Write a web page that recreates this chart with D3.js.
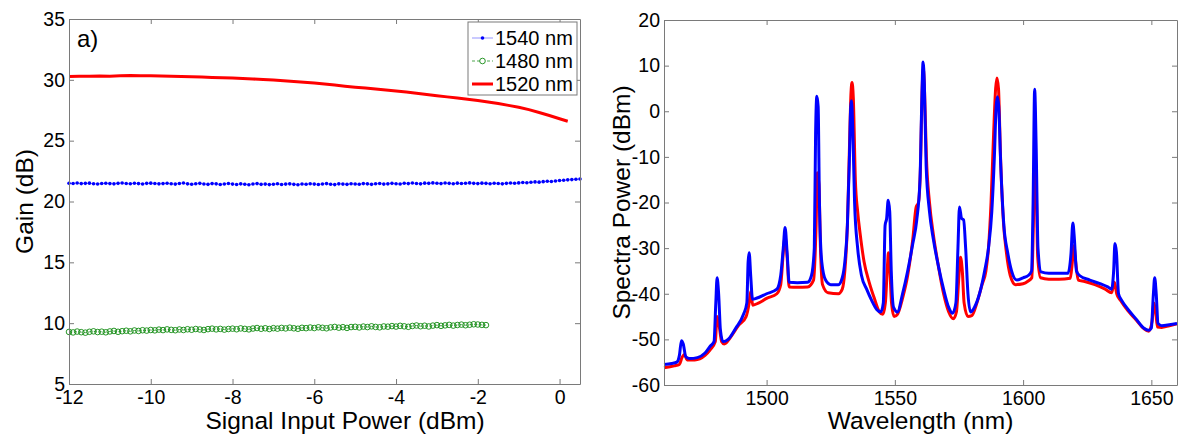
<!DOCTYPE html>
<html lang="en">
<head>
    <meta charset="UTF-8">
    <title>Gain and spectra</title>
    <script src="https://d3js.org/d3.v7.min.js"></script>
    <style>
        body { margin: 0; background: #fff; }
        svg { display: block; font-family: "Liberation Sans", Arial, sans-serif; }
        .axis path, .axis line { stroke: #7a7a7a; stroke-width: 1; }
        .axis text { fill: #000; font-size: 19.5px; font-family: "Liberation Sans", Arial, sans-serif; }
    </style>
</head>
<body>
<script>
// ---- panel a) : gain vs signal input power ----
var inputPower = [
    -12.0,-11.9,-11.8,-11.7,-11.6,-11.5,-11.4,-11.3,-11.2,-11.1,
    -11.0,-10.9,-10.8,-10.7,-10.6,-10.5,-10.4,-10.3,-10.2,-10.1,
    -10.0,-9.9,-9.8,-9.7,-9.6,-9.5,-9.4,-9.3,-9.2,-9.1,
    -9.0,-8.9,-8.8,-8.7,-8.6,-8.5,-8.4,-8.3,-8.2,-8.1,
    -8.0,-7.9,-7.8,-7.7,-7.6,-7.5,-7.4,-7.3,-7.2,-7.1,
    -7.0,-6.9,-6.8,-6.7,-6.6,-6.5,-6.4,-6.3,-6.2,-6.1,
    -6.0,-5.9,-5.8,-5.7,-5.6,-5.5,-5.4,-5.3,-5.2,-5.1,
    -5.0,-4.9,-4.8,-4.7,-4.6,-4.5,-4.4,-4.3,-4.2,-4.1,
    -4.0,-3.9,-3.8,-3.7,-3.6,-3.5,-3.4,-3.3,-3.2,-3.1,
    -3.0,-2.9,-2.8,-2.7,-2.6,-2.5,-2.4,-2.3,-2.2,-2.1,
    -2.0,-1.9,-1.8,-1.7,-1.6,-1.5,-1.4,-1.3,-1.2,-1.1,
    -1.0,-0.9,-0.8,-0.7,-0.6,-0.5,-0.4,-0.3,-0.2,-0.1,
    0.0,0.1,0.2,0.3,0.4,0.5
];
var gain1540 = [
    21.50,21.48,21.52,21.47,21.49,21.51,21.46,21.44,21.48,21.50,
    21.47,21.45,21.49,21.52,21.48,21.46,21.50,21.47,21.44,21.49,
    21.51,21.48,21.45,21.47,21.50,21.46,21.43,21.48,21.52,21.45,
    21.42,21.46,21.49,21.44,21.41,21.47,21.45,21.40,21.44,21.48,
    21.43,21.40,21.45,21.42,21.38,21.44,21.47,21.41,21.43,21.39,
    21.42,21.46,21.40,21.43,21.45,21.41,21.38,21.44,21.42,21.46,
    21.43,21.40,21.44,21.47,21.42,21.39,21.45,21.43,21.41,21.46,
    21.44,21.42,21.47,21.45,21.41,21.46,21.48,21.43,21.45,21.49,
    21.46,21.44,21.50,21.47,21.52,21.48,21.45,21.51,21.49,21.53,
    21.50,21.47,21.52,21.49,21.46,21.51,21.48,21.50,21.53,21.49,
    21.47,21.51,21.49,21.46,21.50,21.48,21.45,21.49,21.52,21.50,
    21.53,21.56,21.54,21.58,21.61,21.59,21.63,21.66,21.64,21.69,
    21.72,21.75,21.78,21.80,21.83,21.85
];
var gain1480 = [
    9.28,9.24,9.31,9.26,9.22,9.29,9.33,9.27,9.30,9.25,
    9.32,9.36,9.29,9.34,9.38,9.33,9.40,9.36,9.42,9.39,
    9.44,9.41,9.47,9.43,9.49,9.45,9.42,9.48,9.44,9.50,
    9.46,9.52,9.48,9.44,9.51,9.55,9.49,9.53,9.47,9.52,
    9.55,9.50,9.57,9.53,9.49,9.56,9.60,9.54,9.58,9.52,
    9.59,9.55,9.61,9.57,9.63,9.58,9.54,9.62,9.59,9.64,
    9.60,9.66,9.62,9.58,9.65,9.69,9.63,9.67,9.61,9.68,
    9.70,9.65,9.72,9.68,9.74,9.69,9.66,9.73,9.71,9.76,
    9.72,9.78,9.74,9.70,9.77,9.81,9.75,9.79,9.73,9.80,
    9.84,9.78,9.82,9.86,9.80,9.85,9.88,9.83,9.87,9.91,
    9.89,9.86,9.84
];
var inputPower1520 = [
    -12,-11.75,-11.5,-11.25,-11,-10.75,-10.5,-10.25,-10,-9.75,
    -9.5,-9.25,-9,-8.75,-8.5,-8.25,-8,-7.75,-7.5,-7.25,
    -7,-6.75,-6.5,-6.25,-6,-5.75,-5.5,-5.25,-5,-4.75,
    -4.5,-4.25,-4,-3.75,-3.5,-3.25,-3,-2.75,-2.5,-2.25,
    -2,-1.75,-1.5,-1.25,-1,-0.75,-0.5,-0.25,0,0.2
];
var gain1520 = [
    30.28,30.30,30.29,30.31,30.30,30.33,30.36,30.34,30.33,30.31,
    30.29,30.27,30.25,30.23,30.20,30.18,30.15,30.11,30.07,30.03,
    29.99,29.93,29.87,29.80,29.73,29.65,29.57,29.48,29.40,29.32,
    29.24,29.17,29.09,29.00,28.90,28.80,28.70,28.60,28.50,28.40,
    28.30,28.18,28.05,27.90,27.75,27.55,27.32,27.07,26.80,26.60
];
var gainTicksX = [-12, -10, -8, -6, -4, -2, 0];
var gainTicksY = [5, 10, 15, 20, 25, 30, 35];
var legendLabels = ["1540 nm", "1480 nm", "1520 nm"];

// ---- panel b) : output spectra [wavelength nm, power dBm] ----
var specRed = [
    [1460,-56.2],[1464,-55.8],[1466,-55.5],[1467,-54],[1468,-53.3],[1469,-54.5],[1472,-54.5],
    [1476,-53.5],[1478,-52.3],[1480,-50.5],[1480.7,-45],[1481.5,-47],[1482.5,-50.5],[1483.5,-51],
    [1486,-49.5],[1489,-47],[1492,-45],[1493.2,-42],[1493.8,-39.5],[1494.6,-42.5],[1497,-42],
    [1500,-41],[1504,-40],[1505.5,-38],[1506.5,-31],[1507.2,-27.5],[1508,-32],[1508.8,-38.5],
    [1512,-38.6],[1516,-38.5],[1518.3,-37],[1519.3,-25],[1519.8,-13.5],[1520.4,-16],[1521,-30],
    [1521.8,-38],[1524,-39.8],[1528,-40],[1529.5,-39],[1530.5,-35],[1531.5,-25],[1532.3,-8],
    [1532.9,4],[1533.3,6.3],[1533.8,3],[1534.6,-15],[1535.5,-22],[1536.5,-27],[1538,-33],
    [1540,-37.5],[1542,-41],[1544,-44],[1545.3,-44.5],[1546.3,-42],[1547.1,-34],[1547.5,-31],
    [1548,-34],[1548.7,-42],[1549.7,-45],[1551,-44.5],[1553,-41],[1555,-36],[1557,-28],
    [1558.3,-21],[1559.2,-20],[1560,-12],[1560.6,4],[1561.1,9.5],[1561.6,4],[1562.3,-10],
    [1563.5,-20],[1565,-27],[1567,-34],[1569,-40],[1571,-44],[1572.8,-45.5],[1574,-44],
    [1575,-36],[1575.6,-32],[1576.3,-35],[1577,-42],[1578.5,-45],[1580,-44.8],[1582,-42],
    [1584,-38],[1585.5,-35],[1586.5,-30],[1587.5,-20],[1588.5,-5],[1589.3,5],[1589.8,7.3],
    [1590.4,5],[1591.2,-10],[1592.3,-24],[1593.5,-31],[1595,-36],[1597,-38],[1600,-37.8],
    [1602,-37.2],[1603.4,-36.5],[1604,-25],[1604.5,-11.5],[1605,-14],[1605.7,-32],[1606.8,-36.5],
    [1610,-36.8],[1614,-36.8],[1618.4,-36.6],[1619.2,-33],[1619.8,-29.5],[1620.5,-33],[1621.5,-37],
    [1624,-37.3],[1628,-38],[1632,-39],[1634.5,-39.8],[1635.6,-37.5],[1636.5,-40],[1638,-41.5],
    [1641,-43.8],[1644,-45.7],[1647,-47.6],[1649,-48.2],[1650.3,-46],[1651,-42],[1651.7,-44],
    [1652.4,-47.3],[1654,-47.4],[1657,-47],[1660,-46.6]
];
var specBlue = [
    [1460,-55.5],[1463,-55.3],[1465,-55],[1466,-53.5],[1466.8,-50.3],[1467.5,-51],[1468.5,-53.8],
    [1470,-54.2],[1473,-54],[1476,-53],[1478,-51.5],[1479.5,-50.5],[1480.2,-42],[1480.7,-36.5],
    [1481.3,-40],[1482,-48],[1483,-50.5],[1485,-50],[1488,-47.5],[1491,-44.5],[1492.3,-42],
    [1492.8,-33],[1493.2,-31],[1493.8,-36],[1494.5,-41.2],[1496,-41],[1500,-40],[1504,-39],
    [1505.5,-36],[1506.5,-30],[1507.2,-25.5],[1508,-31],[1508.8,-37.5],[1512,-37.6],[1516,-37.5],
    [1517.5,-36],[1518.6,-30],[1519.1,-5],[1519.6,3.3],[1520.1,1],[1520.6,-20],[1521.5,-33],
    [1523,-37],[1525,-38],[1528,-38],[1529.5,-36.5],[1530.5,-33],[1531.5,-25],[1532.3,-10],
    [1532.8,1],[1533.1,2.3],[1533.6,-4],[1534.3,-20],[1535.5,-30],[1537,-36],[1539,-39],
    [1541,-41.5],[1543,-43.5],[1544.5,-44],[1545.5,-42],[1546.2,-25],[1546.8,-23.5],[1547.4,-19.5],
    [1548,-22],[1548.6,-35],[1549.5,-43],[1551,-44],[1553,-40],[1555,-35],[1557,-29],
    [1558.5,-24],[1559.8,-15],[1560.5,2],[1561,10.8],[1561.5,6],[1562.2,-12],[1563.5,-22],
    [1565,-28],[1567,-34],[1569,-39],[1571,-43],[1572.5,-44.3],[1573.8,-42],[1574.6,-30],
    [1575.2,-21],[1576,-23.5],[1576.8,-23.8],[1577.6,-30],[1578.5,-40],[1579.5,-44],[1581,-43],
    [1583,-40],[1585,-35],[1586.5,-30],[1587.8,-22],[1588.8,-10],[1589.5,1],[1590,3.2],
    [1590.5,1],[1591.3,-12],[1592.5,-25],[1594,-31],[1595.5,-35],[1597.5,-37],[1600,-36.5],
    [1602,-36],[1603.3,-35],[1603.9,-20],[1604.5,4.8],[1605.1,-8],[1605.8,-30],[1607,-35.2],
    [1610,-35.5],[1614,-35.5],[1617.5,-35.5],[1618.7,-31],[1619.4,-24.5],[1620,-28],[1620.8,-35],
    [1622,-36],[1626,-37],[1630,-37.8],[1633,-38.5],[1634.5,-39],[1635.3,-35],[1635.8,-29],
    [1636.4,-31],[1637.2,-40],[1638.5,-41.5],[1641,-43.5],[1644,-45.5],[1647,-47.5],[1649,-48],
    [1650,-47.5],[1650.8,-40],[1651.3,-36.5],[1651.9,-40],[1652.6,-46.5],[1654,-47],[1657,-46.8],
    [1660,-46.5]
];
var specTicksX = [1500, 1550, 1600, 1650];
var specTicksY = [-60, -50, -40, -30, -20, -10, 0, 10, 20];

var w = 1179, h = 437;
var svg = d3.select("body").append("svg").attr("width", w).attr("height", h);

// draws a MATLAB style boxed frame with inward ticks on all 4 sides
function frame(g, x, y, tx, ty) {
    var x0 = x.range()[0], x1 = x.range()[1], y0 = y.range()[1], y1 = y.range()[0];
    g.append("g").attr("class", "axis").attr("transform", "translate(0," + y1 + ")")
        .call(d3.axisBottom(x).tickValues(tx).tickSize(-5).tickSizeOuter(0).tickPadding(6).tickFormat(d3.format("d")));
    g.append("g").attr("class", "axis").attr("transform", "translate(0," + y0 + ")")
        .call(d3.axisTop(x).tickValues(tx).tickSize(-5).tickSizeOuter(0).tickFormat(""));
    g.append("g").attr("class", "axis").attr("transform", "translate(" + x0 + ",0)")
        .call(d3.axisLeft(y).tickValues(ty).tickSize(-5).tickSizeOuter(0).tickPadding(4).tickFormat(d3.format("d")));
    g.append("g").attr("class", "axis").attr("transform", "translate(" + x1 + ",0)")
        .call(d3.axisRight(y).tickValues(ty).tickSize(-5).tickSizeOuter(0).tickFormat(""));
    g.selectAll(".axis text").text(function() { return this.textContent.replace("\u2212", "-"); });
}

// ---------- left panel ----------
var xa = d3.scaleLinear().domain([-12, 0.5]).range([69, 580]);
var ya = d3.scaleLinear().domain([5, 35]).range([384, 19]);
var ga = svg.append("g");

var pts1540 = inputPower.map(function(p, i) { return [p, gain1540[i]]; });
var pts1480 = gain1480.map(function(g, i) { return [inputPower[i], g]; });
var pts1520 = inputPower1520.map(function(p, i) { return [p, gain1520[i]]; });
var lineA = d3.line().x(function(d) { return xa(d[0]); }).y(function(d) { return ya(d[1]); });

ga.append("path").datum(pts1540).attr("d", lineA)
    .attr("fill", "none").attr("stroke", "#0000ff").attr("stroke-width", 0.7).attr("stroke-opacity", 0.6);
ga.selectAll("circle.b").data(pts1540).enter().append("circle").attr("class", "b")
    .attr("cx", function(d) { return xa(d[0]); }).attr("cy", function(d) { return ya(d[1]); })
    .attr("r", 1.8).attr("fill", "#0000ff");

ga.append("path").datum(pts1480).attr("d", lineA)
    .attr("fill", "none").attr("stroke", "#008000").attr("stroke-width", 0.7).attr("stroke-dasharray", "3,2");
ga.selectAll("circle.g").data(pts1480).enter().append("circle").attr("class", "g")
    .attr("cx", function(d) { return xa(d[0]); }).attr("cy", function(d) { return ya(d[1]); })
    .attr("r", 2.8).attr("fill", "none").attr("stroke", "#108a10").attr("stroke-width", 0.9);

ga.append("path").datum(pts1520).attr("d", lineA)
    .attr("fill", "none").attr("stroke", "#ff0000").attr("stroke-width", 3);

frame(ga, xa, ya, gainTicksX, gainTicksY);

ga.append("text").attr("x", 77).attr("y", 47).attr("font-size", 24).text("a)");

ga.append("text").attr("x", 345).attr("y", 429).attr("text-anchor", "middle")
    .attr("font-size", 24.5).text("Signal Input Power (dBm)");
ga.append("text").attr("transform", "translate(33," + (19 + 384) / 2 + ") rotate(-90)")
    .attr("text-anchor", "middle").attr("font-size", 24.5).text("Gain (dB)");

// legend
var lg = ga.append("g");
lg.append("rect").attr("x", 468).attr("y", 22).attr("width", 109).attr("height", 73)
    .attr("fill", "#fff").attr("stroke", "#7a7a7a").attr("stroke-width", 1);
var rowY = [38, 61, 84];
legendLabels.forEach(function(lab, i) {
    var yy = rowY[i];
    if (i === 0) {
        lg.append("line").attr("x1", 472).attr("x2", 493).attr("y1", yy).attr("y2", yy)
            .attr("stroke", "#0000ff").attr("stroke-width", 0.7).attr("stroke-opacity", 0.6);
        lg.append("circle").attr("cx", 482.5).attr("cy", yy).attr("r", 1.8).attr("fill", "#0000ff");
    } else if (i === 1) {
        lg.append("line").attr("x1", 472).attr("x2", 493).attr("y1", yy).attr("y2", yy)
            .attr("stroke", "#008000").attr("stroke-width", 0.7).attr("stroke-dasharray", "3,2");
        lg.append("circle").attr("cx", 482.5).attr("cy", yy).attr("r", 2.8)
            .attr("fill", "#fff").attr("stroke", "#108a10").attr("stroke-width", 0.9);
    } else {
        lg.append("line").attr("x1", 472).attr("x2", 493).attr("y1", yy).attr("y2", yy)
            .attr("stroke", "#ff0000").attr("stroke-width", 3);
    }
    lg.append("text").attr("x", 495).attr("y", yy).attr("dy", "0.36em")
        .attr("font-size", 20).text(lab);
});

// ---------- right panel ----------
var xb = d3.scaleLinear().domain([1460, 1660]).range([664, 1177]);
var yb = d3.scaleLinear().domain([-60, 20]).range([385, 20]);
var gb = svg.append("g");
var lineB = d3.line().curve(d3.curveMonotoneX)
    .x(function(d) { return xb(d[0]); }).y(function(d) { return yb(d[1]); });

gb.append("path").datum(specRed).attr("d", lineB)
    .attr("fill", "none").attr("stroke", "#ff0000").attr("stroke-width", 3).attr("stroke-linejoin", "round");
gb.append("path").datum(specBlue).attr("d", lineB)
    .attr("fill", "none").attr("stroke", "#0000ff").attr("stroke-width", 3).attr("stroke-linejoin", "round");

frame(gb, xb, yb, specTicksX, specTicksY);

gb.append("text").attr("x", (664 + 1177) / 2).attr("y", 429).attr("text-anchor", "middle")
    .attr("font-size", 24.5).text("Wavelength (nm)");
gb.append("text").attr("transform", "translate(630," + (20 + 385) / 2 + ") rotate(-90)")
    .attr("text-anchor", "middle").attr("font-size", 24.5).text("Spectra Power (dBm)");
</script>
</body>
</html>
